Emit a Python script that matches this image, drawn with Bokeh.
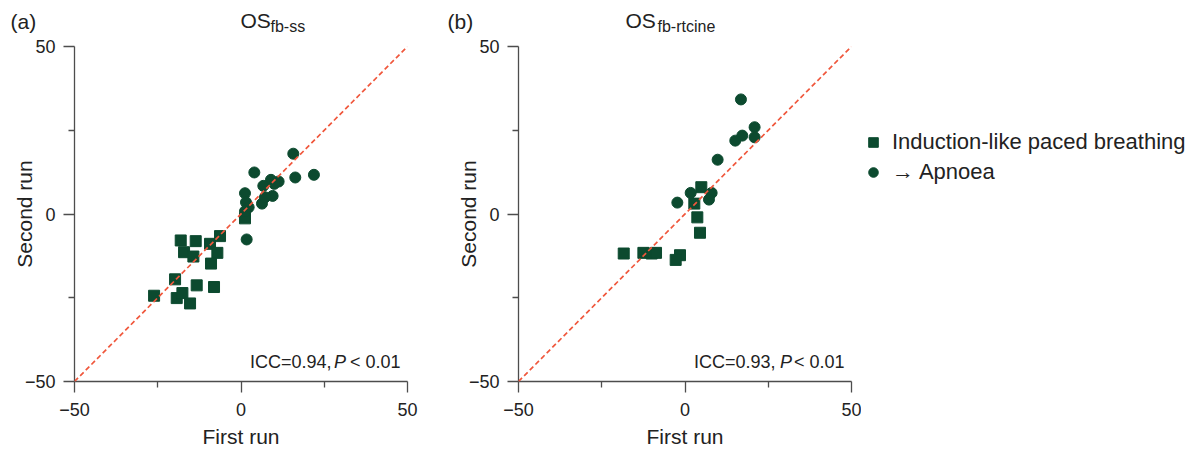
from bokeh.plotting import figure
from bokeh.layouts import row, column
from bokeh.models import Range1d, FixedTicker, Slope, Label, Legend, LegendItem
from bokeh.embed import file_html
from bokeh.resources import INLINE

# ---- data ----
a_sq_x = [-26.1, -19.8, -19.3, -18.1, -17.6, -17.1, -15.3, -14.3, -13.6, -13.3, -9.3, -9.0, -8.1, -7.1, -6.3, 1.2]
a_sq_y = [-24.4, -19.5, -25.1, -7.9, -23.6, -11.4, -26.7, -12.7, -8.1, -21.3, -8.9, -14.8, -21.8, -11.6, -6.6, -1.3]
a_ci_x = [15.7, 4.0, 21.9, 16.3, 9.0, 11.3, 10.0, 6.7, 1.2, 9.5, 6.3, 7.2, 1.5, 2.3, 1.2, 1.7]
a_ci_y = [18.0, 12.4, 11.7, 10.9, 10.2, 9.7, 9.0, 8.4, 6.2, 5.4, 3.1, 5.0, 3.5, 2.0, 0.8, -7.6]

b_sq_x = [4.9, 2.8, 3.7, 4.5, -18.4, -12.5, -10.0, -8.7, -1.5, -2.8]
b_sq_y = [8.0, 3.1, -1.0, -5.6, -11.8, -11.6, -11.8, -11.6, -12.3, -13.7]
b_ci_x = [16.8, 20.9, 17.2, 15.1, 20.9, 9.8, 1.7, 8.0, 7.2, -2.3]
b_ci_y = [34.2, 25.9, 23.4, 21.9, 22.9, 16.2, 6.3, 6.3, 4.3, 3.4]

major_ticks = [-50, 0, 50]
minor_ticks = [-25, 25]
tick_labels = {-50: "\u221250", 0: "0", 50: "50"}
panel_letters = ["(a)", "(b)"]
title_main = ["OS", "OS"]
title_sub = ["fb-ss", "fb-rtcine"]
icc_text = ["ICC=0.94,\u00a0", "ICC=0.93,\u00a0"]
legend_labels = ["Induction-like paced breathing", "\u2192 Apnoea"]

GREEN = "#0c4a2f"
RED = "#f0573c"
TXT = "#222222"
AX = "#4d4d4d"
FONT = "Liberation Sans"

W_TOTAL = 1191
H_HEAD = 38
H_BODY = 451 - H_HEAD
W_A = 448
W_B = 413
W_LEG = W_TOTAL - W_A - W_B


def bare(width, height, xr, yr):
    f = figure(width=width, height=height, x_range=xr, y_range=yr,
               output_backend="svg", toolbar_location=None, x_axis_type=None, y_axis_type=None,
               min_border_left=0, min_border_right=0, min_border_top=0, min_border_bottom=0)
    f.outline_line_color = None
    f.grid.visible = False
    return f


# ---- header with panel letters and titles (pixel coordinates, y down) ----
head = bare(W_TOTAL, H_HEAD, Range1d(0, W_TOTAL), Range1d(H_HEAD, 0))
for i, (lx, tx, sx) in enumerate([(10, 240, 270), (447, 625, 657)]):
    head.add_layout(Label(x=lx, y=32.2, text=panel_letters[i], text_font=FONT, text_baseline="bottom",
                          text_font_size="21px", text_color=TXT))
    head.add_layout(Label(x=tx, y=31.4, text=title_main[i], text_font=FONT, text_baseline="bottom",
                          text_font_size="21px", text_color=TXT))
    head.add_layout(Label(x=sx, y=34.4, text=title_sub[i], text_font=FONT, text_baseline="bottom",
                          text_font_size="16px", text_color=TXT))


def make_panel(idx, sqx, sqy, cix, ciy, width, ml, mr, p_x, rest_x):
    p = figure(width=width, height=H_BODY, x_range=Range1d(-50, 50), y_range=Range1d(-50, 50),
               output_backend="svg", toolbar_location=None,
               min_border_left=ml, min_border_right=mr, min_border_top=8, min_border_bottom=70)
    p.outline_line_color = None
    p.grid.visible = False
    for ax in (p.xaxis[0], p.yaxis[0]):
        ax.ticker = FixedTicker(ticks=major_ticks, minor_ticks=minor_ticks)
        ax.major_label_overrides = tick_labels
        ax.axis_line_color = AX
        ax.axis_line_width = 1.3
        ax.major_tick_line_color = AX
        ax.minor_tick_line_color = AX
        ax.major_tick_line_width = 1.3
        ax.minor_tick_line_width = 1.3
        ax.major_tick_in = 0
        ax.major_tick_out = 11
        ax.minor_tick_in = 0
        ax.minor_tick_out = 6
        ax.major_label_text_font = FONT
        ax.major_label_text_font_size = "18px"
        ax.major_label_text_color = TXT
        ax.axis_label_text_font = FONT
        ax.axis_label_text_font_size = "21px"
        ax.axis_label_text_font_style = "normal"
        ax.axis_label_text_color = TXT
    p.xaxis[0].axis_label = "First run"
    p.yaxis[0].axis_label = "Second run"
    p.xaxis[0].major_label_standoff = 10
    p.xaxis[0].axis_label_standoff = 6
    p.yaxis[0].major_label_standoff = 8
    p.yaxis[0].axis_label_standoff = -14

    p.add_layout(Slope(gradient=1, y_intercept=0, line_color=RED, line_dash="5 3", line_width=1.7))
    p.scatter(sqx, sqy, marker="square", size=11, color=GREEN)
    p.scatter(cix, ciy, marker="circle", size=11, color=GREEN)

    p.add_layout(Label(x=2.7, y=-47.3, text=icc_text[idx], text_font=FONT, text_baseline="bottom",
                       text_font_size="18px", text_color=TXT))
    p.add_layout(Label(x=p_x, y=-47.3, text="P", text_font=FONT, text_font_style="italic",
                       text_baseline="bottom", text_font_size="18px", text_color=TXT))
    p.add_layout(Label(x=rest_x, y=-47.3, text="\u00a0< 0.01", text_font=FONT, text_baseline="bottom",
                       text_font_size="18px", text_color=TXT))
    return p


pa = make_panel(0, a_sq_x, a_sq_y, a_ci_x, a_ci_y, W_A, 74, 41, 27.9, 31.2)
pb = make_panel(1, b_sq_x, b_sq_y, b_ci_x, b_ci_y, W_B, 70, 10, 28.5, 31.2)

# ---- legend panel: same series drawn outside its visible range, only the key shows ----
leg = bare(W_LEG, H_BODY, Range1d(1000, 1001), Range1d(1000, 1001))
r_sq = leg.scatter(b_sq_x, b_sq_y, marker="square", size=10, color=GREEN)
r_ci = leg.scatter(b_ci_x, b_ci_y, marker="circle", size=10, color=GREEN)
legend = Legend(items=[LegendItem(label=legend_labels[0], renderers=[r_sq]),
                       LegendItem(label=legend_labels[1], renderers=[r_ci])],
                location=(0, 194), padding=0, margin=0, spacing=0,
                glyph_width=24, glyph_height=30, label_height=30, label_standoff=7,
                label_text_font=FONT, label_text_font_size="22px", label_text_color=TXT,
                border_line_color=None, background_fill_alpha=0)
leg.add_layout(legend)

layout = column(head, row(pa, pb, leg))
open("out.html", "w").write(file_html(layout, INLINE))
